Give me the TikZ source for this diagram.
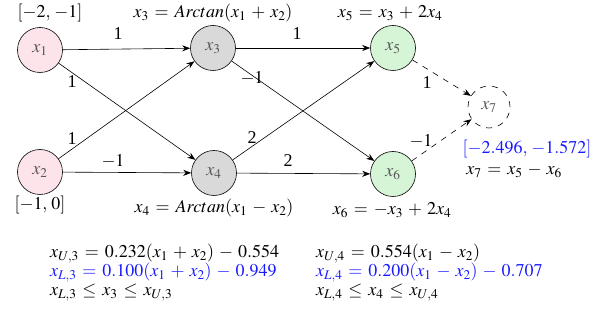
\documentclass[tikz,border=0pt]{standalone}
\usepackage{mathptmx}
\usepackage[no-math]{fontspec}
\setmainfont{Liberation Serif}
\usetikzlibrary{arrows.meta}
\definecolor{pinkfill}{HTML}{FCE4EA}
\definecolor{grayfill}{HTML}{D9D9D9}
\definecolor{greenfill}{HTML}{D6F5D6}
\definecolor{nodetext}{HTML}{555555}
\definecolor{bluetext}{HTML}{1A1AFF}
\medmuskip=5mu plus 2mu minus 4mu
\thickmuskip=6mu plus 5mu
\tikzset{
  neuron/.style={circle, draw, line width=0.6pt, minimum size=45pt, inner sep=0pt, text=nodetext},
  inp/.style={neuron, fill=pinkfill},
  hid/.style={neuron, fill=grayfill},
  outn/.style={neuron, fill=greenfill},
  fin/.style={neuron, dash pattern=on 6pt off 6pt, minimum size=42pt},
  conn/.style={-{Stealth[length=8pt,width=6pt]}, line width=0.6pt},
  dconn/.style={conn, dash pattern=on 6pt off 6pt},
  lbl/.style={inner sep=0pt},
  block/.style={inner sep=0pt, anchor=north west, align=left, font=\fontsize{18}{19}\selectfont},
}
\begin{document}
\begin{tikzpicture}[x=1pt,y=-1pt,font=\fontsize{18}{20}\selectfont]
\useasboundingbox (0,0) rectangle (600,320);
\node[inp] (x1) at (40,50) {$x_1$};
\node[inp] (x2) at (40,172) {$x_2$};
\node[hid] (x3) at (213,48) {$x_3$};
\node[hid] (x4) at (214,173) {$x_4$};
\node[outn] (x5) at (393,48) {$x_5$};
\node[outn] (x6) at (393,174) {$x_6$};
\node[fin] (x7) at (489,107) {$x_7$};

\draw[conn] (x1) -- (x3);
\draw[conn] (x1) -- (x4);
\draw[conn] (x2) -- (x3);
\draw[conn] (x2) -- (x4);
\draw[conn] (x3) -- (x5);
\draw[conn] (x3) -- (x6);
\draw[conn] (x4) -- (x5);
\draw[conn] (x4) -- (x6);
\draw[dconn] (x5) -- (x7);
\draw[dconn] (x6) -- (x7);

\node[lbl] (w13) at (118,34) {1};
\node[lbl] (w14) at (72,82) {1};
\node[lbl] (w23) at (72,139) {1};
\node[lbl] (w24) at (113,161) {$-1$};
\node[lbl] (w35) at (297,34) {1};
\node[lbl] (w36) at (252,78) {$-1$};
\node[lbl] (w45) at (252,138) {2};
\node[lbl] (w46) at (288,161) {2};
\node[lbl] (w57) at (427,83) {1};
\node[lbl] (w67) at (421,141) {$-1$};

\node[lbl] (b1) at (50,13) {$[-2,\,-1]$};
\node[lbl] (b2) at (40,205) {$[-1,\,0]$};
\node[lbl] (e3) at (213,13) {$x_3 = Arctan(x_1+x_2)$};
\node[lbl] (e4) at (214,208) {$x_4 = Arctan(x_1-x_2)$};
\node[lbl] (e5) at (390,13) {$x_5 = x_3+2x_4$};
\node[lbl] (e6) at (392,210) {$x_6 = -x_3+2x_4$};
\node[lbl, text=bluetext] (b7) at (527,149) {$[-2.496,\,-1.572]$};
\node[lbl] (e7) at (514,171) {$x_7 = x_5-x_6$};

\node[block] (lb) at (50,244) {$x_{U,3} = 0.232(x_1+x_2)-0.554$\\
\textcolor{bluetext}{$x_{L,3} = 0.100(x_1+x_2)-0.949$}\\
$x_{L,3} \le x_3 \le x_{U,3}$};
\node[block] (rb) at (316,244) {$x_{U,4} = 0.554(x_1-x_2)$\\
\textcolor{bluetext}{$x_{L,4} = 0.200(x_1-x_2)-0.707$}\\
$x_{L,4} \le x_4 \le x_{U,4}$};
\end{tikzpicture}
\end{document}
